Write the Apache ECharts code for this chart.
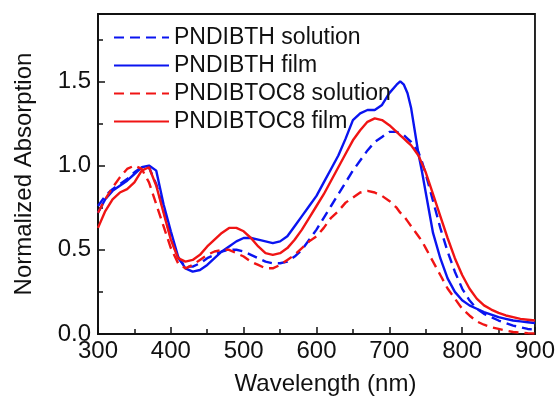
<!DOCTYPE html>
<html>
<head>
<meta charset="utf-8">
<script src="https://cdn.jsdelivr.net/npm/echarts@6/dist/echarts.min.js"></script>
<style>
html,body{margin:0;padding:0;background:#fff;}
#chart{width:558px;height:403px;}
</style>
</head>
<body>
<div id="chart"></div>
<script>
var wavelengths = [300,310,320,330,340,350,360,370,380,390,400,410,420,430,440,450,460,470,480,490,500,510,520,530,540,550,560,570,580,590,600,610,620,630,640,650,660,670,680,690,700,710,715,720,725,730,740,745,750,760,770,780,790,800,810,820,830,840,850,860,870,880,890,900];

var pndibthSolution = [0.76,0.82,0.86,0.89,0.92,0.96,0.99,0.99,0.89,0.73,0.57,0.45,0.40,0.40,0.42,0.45,0.47,0.49,0.50,0.50,0.49,0.47,0.45,0.43,0.42,0.42,0.43,0.46,0.50,0.56,0.62,0.69,0.76,0.83,0.90,0.97,1.03,1.09,1.14,1.17,1.20,1.20,1.19,1.18,1.16,1.14,1.08,1.02,0.95,0.79,0.63,0.49,0.37,0.27,0.20,0.15,0.12,0.10,0.08,0.065,0.05,0.04,0.03,0.025];

var pndibthFilm = [0.72,0.80,0.85,0.88,0.91,0.95,0.99,1.00,0.97,0.77,0.61,0.46,0.39,0.37,0.38,0.41,0.45,0.49,0.52,0.55,0.57,0.57,0.56,0.55,0.54,0.55,0.58,0.64,0.70,0.76,0.82,0.90,0.98,1.06,1.16,1.27,1.31,1.33,1.33,1.36,1.43,1.48,1.50,1.48,1.43,1.34,1.07,0.96,0.84,0.60,0.45,0.33,0.25,0.20,0.17,0.15,0.13,0.115,0.10,0.09,0.08,0.075,0.07,0.065];

var pndibtoc8Solution = [0.72,0.80,0.87,0.93,0.98,1.00,0.98,0.90,0.77,0.64,0.51,0.42,0.39,0.41,0.44,0.47,0.49,0.50,0.50,0.48,0.46,0.43,0.41,0.39,0.39,0.41,0.44,0.47,0.51,0.55,0.58,0.63,0.69,0.73,0.78,0.81,0.84,0.85,0.84,0.82,0.79,0.75,0.72,0.70,0.67,0.64,0.58,0.55,0.51,0.43,0.35,0.27,0.21,0.15,0.11,0.075,0.055,0.04,0.03,0.02,0.012,0.008,0.005,0.003];

var pndibtoc8Film = [0.63,0.73,0.80,0.84,0.86,0.90,0.97,0.99,0.88,0.72,0.56,0.45,0.43,0.44,0.47,0.52,0.56,0.60,0.63,0.63,0.61,0.57,0.52,0.48,0.47,0.48,0.51,0.56,0.62,0.69,0.76,0.83,0.91,0.99,1.07,1.15,1.21,1.26,1.28,1.27,1.24,1.20,1.18,1.16,1.14,1.12,1.06,1.01,0.96,0.83,0.70,0.57,0.45,0.35,0.27,0.21,0.17,0.145,0.125,0.11,0.10,0.09,0.085,0.08];

var seriesNames = ['PNDIBTH solution','PNDIBTH film','PNDIBTOC8 solution','PNDIBTOC8 film'];
var xAxisTitle = 'Wavelength (nm)';
var yAxisTitle = 'Normalized Absorption';

function pairs(ys){ return wavelengths.map(function(x,i){ return [x, ys[i]]; }); }

var BLUE = '#0a14f0', RED = '#f01414';
var FONT = '"Liberation Sans", Arial, sans-serif';

function mk(name, ys, color, dashed){
  return {
    name: name, type: 'line', data: pairs(ys), symbol: 'none', smooth: false,
    lineStyle: { color: color, width: 2.4, type: dashed ? [10, 6] : 'solid' },
    itemStyle: { color: color },
    emphasis: { disabled: true }, animation: false
  };
}

var chart = echarts.init(document.getElementById('chart'), null, {renderer: 'canvas'});
chart.setOption({
  backgroundColor: '#fff',
  animation: false,
  grid: { left: 98, right: 22, top: 14, bottom: 69, show: true, borderColor: '#111', borderWidth: 1.8, containLabel: false },
  legend: {
    orient: 'vertical', left: 108, top: 21,
    itemWidth: 55, itemHeight: 14, itemGap: 5,
    itemStyle: { opacity: 0 },
    textStyle: { fontFamily: FONT, fontSize: 23, color: '#111' },
    data: seriesNames
  },
  xAxis: {
    type: 'value', min: 300, max: 900, interval: 100,
    name: xAxisTitle, nameLocation: 'middle', nameGap: 38,
    nameTextStyle: { fontFamily: FONT, fontSize: 24, color: '#111', padding: [0,0,0,18] },
    axisLine: { show: true, onZero: false, lineStyle: { color: '#111', width: 1.8 } },
    axisTick: { show: true, inside: true, length: 7, lineStyle: { color: '#111', width: 1.5 } },
    minorTick: { show: true, splitNumber: 2, length: 5, lineStyle: { color: '#111', width: 1.5 } },
    axisLabel: { fontFamily: FONT, fontSize: 24, color: '#111', margin: 5 },
    splitLine: { show: false }
  },
  yAxis: {
    type: 'value', min: 0, max: 1.9, interval: 0.5,
    name: yAxisTitle, nameLocation: 'middle', nameGap: 62,
    nameTextStyle: { fontFamily: FONT, fontSize: 24, color: '#111' },
    axisLine: { show: true, lineStyle: { color: '#111', width: 1.8 } },
    axisTick: { show: true, inside: true, length: 7, lineStyle: { color: '#111', width: 1.5 } },
    minorTick: { show: true, splitNumber: 2, length: 5, lineStyle: { color: '#111', width: 1.5 } },
    axisLabel: { fontFamily: FONT, fontSize: 24, color: '#111', margin: 7, showMaxLabel: false,
      formatter: function(v){ return v.toFixed(1); } },
    splitLine: { show: false }
  },
  series: [
    mk(seriesNames[0], pndibthSolution, BLUE, true),
    mk(seriesNames[1], pndibthFilm, BLUE, false),
    mk(seriesNames[2], pndibtoc8Solution, RED, true),
    mk(seriesNames[3], pndibtoc8Film, RED, false)
  ]
});
</script>
</body>
</html>
